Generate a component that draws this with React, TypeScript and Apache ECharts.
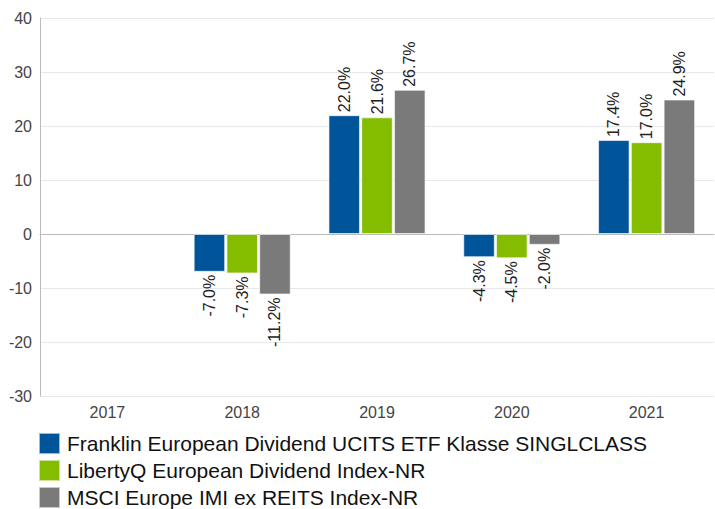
import React, { useEffect, useRef } from "react";
import * as echarts from "echarts";

const categories = ["2017", "2018", "2019", "2020", "2021"];
const seriesNames = [
  "Franklin European Dividend UCITS ETF Klasse SINGLCLASS",
  "LibertyQ European Dividend Index-NR",
  "MSCI Europe IMI ex REITS Index-NR",
];
const franklin = [null, -7.0, 22.0, -4.3, 17.4];
const libertyQ = [null, -7.3, 21.6, -4.5, 17.0];
const msci = [null, -11.2, 26.7, -2.0, 24.9];
const colors = ["#00559a", "#84bc00", "#7a7a7a"];

export default function App() {
  const ref = useRef<HTMLDivElement>(null);
  useEffect(() => {
    if (!ref.current) return;
    const chart = echarts.init(ref.current, undefined, { renderer: "svg" });
    const font = "'Liberation Sans', Arial, sans-serif";
    const mk = (name: string, vals: (number | null)[], color: string) => ({
      name,
      type: "bar",
      barGap: "4%",
      barCategoryGap: "28%",
      itemStyle: { color, borderColor: "rgba(255,255,255,0.6)", borderWidth: 1 },
      label: {
        show: true,
        position: "outside",
        rotate: 90,
        distance: 3,
        color: "#222",
        fontSize: 16,
        fontFamily: font,
        verticalAlign: "middle",
        formatter: (p: any) => (p.value == null ? "" : p.value.toFixed(1) + "%"),
      },
      data: vals.map((v) =>
        v == null
          ? null
          : { value: v, label: { align: v < 0 ? "right" : "left" } }
      ),
    });
    chart.setOption({
      animation: false,
      color: colors,
      grid: { left: 40, right: 1, top: 18, bottom: 113 },
      legend: {
        orient: "vertical",
        left: 38,
        top: 432,
        padding: 0,
        height: 80,
        icon: "rect",
        itemWidth: 21,
        itemHeight: 21,
        itemGap: 4,
        textStyle: { fontSize: 21, color: "#111", fontFamily: font, padding: [0, 0, 0, 2] },
        data: seriesNames,
      },
      xAxis: {
        type: "category",
        data: categories,
        axisLine: { lineStyle: { color: "#bbb" } },
        axisTick: { show: false },
        axisLabel: { color: "#444", fontSize: 16, fontFamily: font, margin: 8 },
      },
      yAxis: {
        type: "value",
        min: -30,
        max: 40,
        interval: 10,
        axisLine: { show: true, lineStyle: { color: "#bbb" } },
        splitLine: { lineStyle: { color: "#e8e8e8" } },
        axisLabel: { color: "#444", fontSize: 16, fontFamily: font, margin: 8 },
      },
      series: [
        mk(seriesNames[0], franklin, colors[0]),
        mk(seriesNames[1], libertyQ, colors[1]),
        mk(seriesNames[2], msci, colors[2]),
      ],
    });
    return () => chart.dispose();
  }, []);
  return <div ref={ref} style={{ width: 715, height: 509, position: "absolute", left: 0, top: 0 }} />;
}
